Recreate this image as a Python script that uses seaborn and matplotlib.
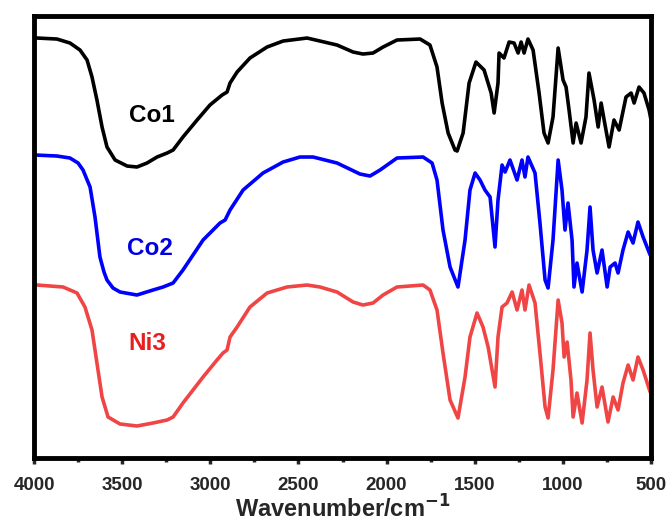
import numpy as np
import pandas as pd
import matplotlib
matplotlib.use('Agg')
import matplotlib.pyplot as plt
import seaborn as sns

# 数据（从图中读取，单位任意，已包含纵向偏移）
co1_wn = [3983, 3870, 3796, 3739, 3699, 3671, 3643, 3614, 3586, 3540, 3472, 3416, 3359, 3302,
          3245, 3211, 3155, 3075, 3002, 2933, 2905, 2888, 2848, 2775, 2678, 2587, 2451, 2378,
          2281, 2190, 2134, 2077, 2020, 1941, 1810, 1754, 1714, 1685, 1651, 1612, 1600, 1566,
          1532, 1493, 1447, 1407, 1390, 1368, 1362, 1334, 1305, 1277, 1254, 1237, 1220, 1198,
          1169, 1135, 1107, 1084, 1056, 1027, 999, 982, 965, 942, 925, 897, 869, 852, 823,
          800, 783, 766, 738, 710, 681, 642, 613, 596, 568, 540, 511, 500]
co1_t = [420, 419, 415, 408, 398, 381, 358, 331, 311, 298, 292, 291, 295, 301,
         305, 308, 321, 338, 353, 363, 366, 375, 386, 400, 411, 417, 420, 417,
         413, 406, 404, 405, 411, 418, 419, 413, 391, 355, 325, 308, 307, 325,
         375, 396, 388, 365, 345, 375, 405, 400, 416, 415, 405, 416, 405, 419,
         408, 365, 325, 315, 341, 410, 378, 371, 348, 315, 335, 315, 341, 385, 358,
         331, 355, 338, 311, 338, 328, 361, 365, 355, 371, 365, 348, 338]

co2_wn = [3994, 3870, 3796, 3750, 3722, 3682, 3654, 3626, 3603, 3586, 3552, 3512, 3416, 3325,
          3268, 3211, 3155, 3041, 2945, 2916, 2888, 2814, 2701, 2587, 2491, 2417, 2281, 2151,
          2094, 2037, 1941, 1793, 1742, 1714, 1680, 1640, 1595, 1555, 1527, 1498, 1470, 1442,
          1413, 1385, 1368, 1345, 1328, 1300, 1260, 1232, 1215, 1198, 1158, 1130, 1101, 1084,
          1056, 1027, 1005, 988, 971, 948, 937, 920, 891, 863, 846, 829, 806, 778, 749, 732,
          704, 687, 659, 630, 602, 574, 545, 505]
co2_t = [303, 302, 300, 295, 288, 271, 241, 201, 186, 178, 170, 166, 163, 168,
         171, 175, 188, 218, 235, 238, 248, 268, 285, 296, 301, 301, 295, 284,
         282, 288, 300, 301, 295, 278, 228, 191, 171, 218, 268, 285, 278, 268,
         261, 211, 258, 293, 286, 298, 278, 298, 281, 301, 285, 235, 178, 170,
         218, 298, 268, 228, 255, 218, 171, 195, 166, 208, 251, 208, 185, 208, 171, 191,
         195, 185, 208, 226, 215, 236, 221, 203]

ni3_wn = [3983, 3835, 3756, 3711, 3671, 3643, 3614, 3580, 3512, 3416, 3325, 3245, 3211, 3155,
          3041, 2962, 2928, 2905, 2888, 2848, 2775, 2678, 2565, 2451, 2378, 2281, 2190, 2134,
          2077, 2020, 1941, 1793, 1754, 1714, 1680, 1640, 1595, 1555, 1527, 1487, 1453, 1424,
          1385, 1368, 1345, 1317, 1288, 1260, 1232, 1215, 1192, 1158, 1130, 1101, 1084, 1056,
          1027, 1005, 993, 976, 954, 942, 920, 891, 863, 846, 829, 806, 778, 744, 715, 687,
          659, 630, 602, 574, 545, 505]
ni3_t = [173, 171, 165, 151, 128, 95, 61, 41, 34, 32, 35, 38, 41, 55,
         81, 98, 105, 108, 121, 131, 151, 165, 171, 173, 171, 166, 156, 153,
         155, 163, 171, 173, 168, 148, 105, 58, 40, 81, 121, 145, 131, 111,
         71, 121, 151, 155, 166, 148, 168, 148, 173, 155, 105, 51, 40, 88,
         158, 135, 101, 116, 78, 41, 65, 35, 78, 125, 88, 51, 71, 36, 61, 48,
         75, 93, 78, 101, 88, 66]

names = ['Co1', 'Co2', 'Ni3']
line_colors = ['black', '#0000FF', '#F04545']
label_colors = ['black', '#0000E0', '#E62020']
label_wn = [3331, 3342, 3359]
label_t = [343, 210, 115]

df = pd.concat([
    pd.DataFrame({'wn': co1_wn, 't': co1_t, 'sample': 'Co1'}),
    pd.DataFrame({'wn': co2_wn, 't': co2_t, 'sample': 'Co2'}),
    pd.DataFrame({'wn': ni3_wn, 't': ni3_t, 'sample': 'Ni3'}),
])

sns.set_style('ticks')
plt.rcParams['font.family'] = ['Liberation Sans', 'DejaVu Sans']
plt.rcParams['lines.solid_joinstyle'] = 'round'

fig = plt.figure(figsize=(6.72, 5.22), dpi=100)
ax = fig.add_axes([0.0506, 0.1226, 0.9182, 0.8467])

sns.lineplot(data=df, x='wn', y='t', hue='sample', palette=dict(zip(names, line_colors)),
             estimator=None, sort=True, linewidth=2.6, legend=False, ax=ax)

for n, c, x, y in zip(names, label_colors, label_wn, label_t):
    ax.text(x, y, n, color=c, fontsize=17.5, fontweight='bold', ha='center', va='center')

ax.set_xlim(4000, 500)
ax.set_ylim(0, 442)
ax.set_xticks([4000, 3500, 3000, 2500, 2000, 1500, 1000, 500])
ax.set_xticks(np.arange(750, 4000, 500), minor=True)
ax.set_yticks([])
ax.tick_params(axis='x', which='major', direction='out', length=4, width=2.5,
               labelsize=13.5, pad=10)
ax.tick_params(axis='x', which='minor', direction='out', length=3, width=2.5)
for lab in ax.get_xticklabels():
    lab.set_fontweight('bold')
ax.set_xlabel('Wavenumber/cm$^{\\mathbf{-1}}$', fontsize=17, fontweight='bold', labelpad=1)
ax.set_ylabel('')
for s in ax.spines.values():
    s.set_linewidth(3.5)
    s.set_color('black')

fig.savefig('out.png', dpi=100)
